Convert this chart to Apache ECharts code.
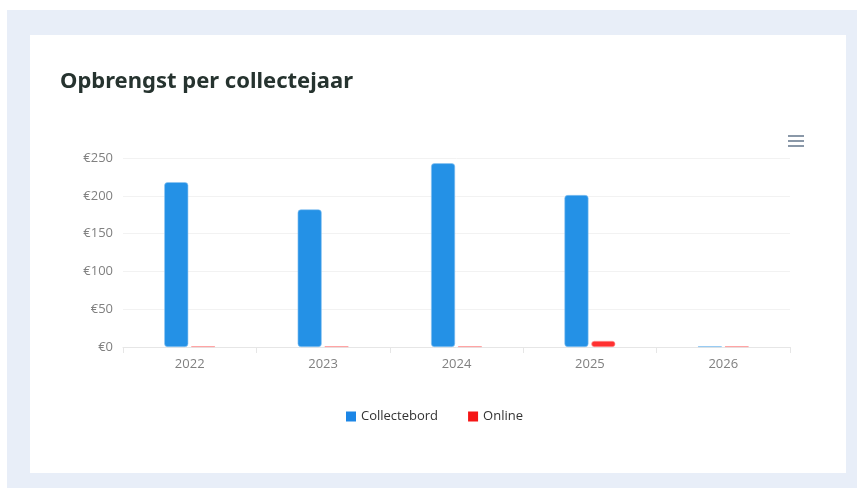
<!DOCTYPE html>
<html>
<head>
<meta charset="utf-8">
<script src="https://cdn.jsdelivr.net/npm/echarts@6/dist/echarts.min.js"></script>
<style>
html,body{margin:0;padding:0;width:857px;height:488px;background:#fff;overflow:hidden;}
#bg{position:absolute;left:7px;top:10px;width:850px;height:478px;background:#e8eef8;}
#card{position:absolute;left:30px;top:35px;width:816px;height:438px;background:#fff;}
#chart{position:absolute;left:0;top:0;width:857px;height:488px;}
</style>
</head>
<body>
<div id="bg"></div>
<div id="card"></div>
<div id="chart"></div>
<script>
const categories = ['2022', '2023', '2024', '2025', '2026'];
const collectebord = [218, 182, 243, 201, 1];
const online = [1, 1, 1, 8, 1];
const yTicks = [0, 50, 100, 150, 200, 250];

const chart = echarts.init(document.getElementById('chart'));
const font = '"Open Sans", "Noto Sans", sans-serif';
chart.setOption({
  backgroundColor: 'transparent',
  animation: false,
  title: {
    text: 'Opbrengst per collectejaar',
    left: 55, top: 66,
    textStyle: {fontFamily: '"Noto Sans", sans-serif', fontSize: 22, fontWeight: 'bold', color: '#26332f'}
  },
  legend: {
    bottom: 60, left: 341,
    itemWidth: 10, itemHeight: 10, itemGap: 30,
    icon: 'rect',
    itemStyle: {borderWidth: 0},
    textStyle: {fontFamily: font, fontSize: 13, color: '#333'},
    data: [
      {name: 'Collectebord', itemStyle: {color: '#1c86e6'}},
      {name: 'Online', itemStyle: {color: '#f51515'}}
    ]
  },
  grid: {left: 123, right: 67, top: 158, bottom: 141},
  xAxis: {
    type: 'category', data: categories,
    axisLine: {lineStyle: {color: '#e6e6e6'}},
    axisTick: {show: true, length: 6, lineStyle: {color: '#e6e6e6'}},
    axisLabel: {color: '#808080', fontFamily: font, fontSize: 13, margin: 11}
  },
  yAxis: {
    type: 'value', min: yTicks[0], max: yTicks[yTicks.length - 1], interval: 50,
    axisLine: {show: false}, axisTick: {show: false},
    splitLine: {lineStyle: {color: '#f2f2f2'}},
    axisLabel: {color: '#808080', fontFamily: font, fontSize: 13, margin: 10, formatter: v => '€' + v}
  },
  series: [
    {name: 'Collectebord', type: 'bar', data: collectebord, barWidth: 24, barGap: '12%',
     itemStyle: {color: '#2491e6', borderRadius: 3, borderColor: '#8cc4f2', borderWidth: 0.6}},
    {name: 'Online', type: 'bar', data: online, barWidth: 24,
     itemStyle: {color: '#ff3030', borderRadius: 3, borderColor: '#ff9a9a', borderWidth: 0.6}}
  ],
  graphic: [
    {type: 'rect', shape: {x: 788, y: 135, width: 16, height: 2}, style: {fill: '#8a98a8'}},
    {type: 'rect', shape: {x: 788, y: 140, width: 16, height: 2}, style: {fill: '#8a98a8'}},
    {type: 'rect', shape: {x: 788, y: 145, width: 16, height: 2}, style: {fill: '#8a98a8'}}
  ]
});
</script>
</body>
</html>
